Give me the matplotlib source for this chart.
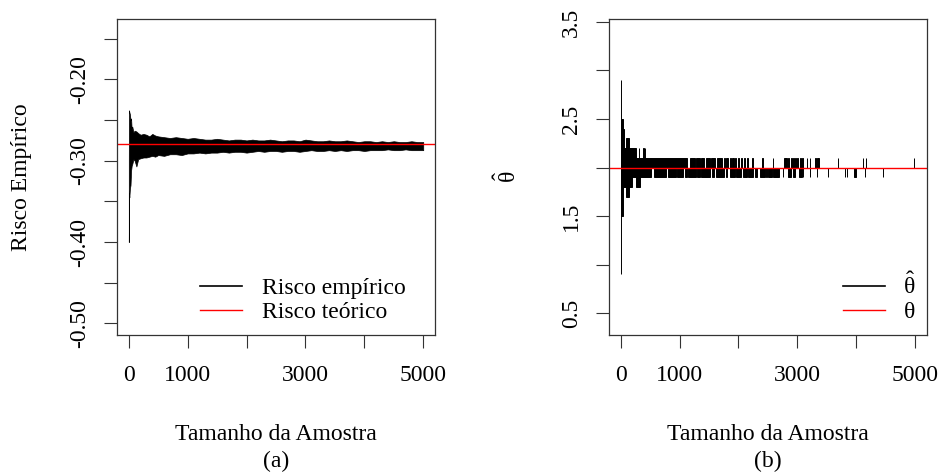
import matplotlib
matplotlib.use("Agg")
import matplotlib.pyplot as plt
from matplotlib.lines import Line2D

# ---------------- data ----------------
# (a) empirical risk: envelope of the noisy running estimate, read from the picture
risk_n = [1, 3, 5, 10, 20, 30, 40, 50, 60, 80, 100, 130, 160, 200, 250, 300, 350, 400,
          450, 500, 600, 700, 800, 900, 1000, 1100, 1200, 1300, 1400, 1500, 1600, 1700,
          1800, 1900, 2000, 2100, 2200, 2300, 2400, 2500, 2600, 2700, 2800, 2900, 3000,
          3100, 3200, 3300, 3400, 3500, 3600, 3700, 3800, 3900, 4000, 4100, 4200, 4300,
          4400, 4500, 4600, 4700, 4800, 4900, 5000]
risk_upper = [-0.300, -0.245, -0.238, -0.240, -0.243, -0.250, -0.248, -0.262, -0.258,
              -0.265, -0.263, -0.264, -0.266, -0.268, -0.267, -0.268, -0.270, -0.267,
              -0.269, -0.270, -0.271, -0.272, -0.271, -0.272, -0.273, -0.272, -0.273,
              -0.274, -0.274, -0.273, -0.274, -0.275, -0.274, -0.274, -0.275, -0.274,
              -0.275, -0.275, -0.274, -0.275, -0.276, -0.275, -0.275, -0.276, -0.274,
              -0.275, -0.276, -0.276, -0.275, -0.276, -0.276, -0.275, -0.276, -0.277,
              -0.276, -0.276, -0.277, -0.276, -0.277, -0.276, -0.277, -0.277, -0.276,
              -0.277, -0.277]
risk_lower = [-0.400, -0.370, -0.340, -0.345, -0.334, -0.330, -0.312, -0.306, -0.304,
              -0.298, -0.300, -0.307, -0.298, -0.297, -0.296, -0.296, -0.295, -0.294,
              -0.295, -0.293, -0.294, -0.292, -0.292, -0.293, -0.291, -0.291, -0.290,
              -0.291, -0.290, -0.290, -0.289, -0.290, -0.289, -0.289, -0.290, -0.289,
              -0.288, -0.289, -0.288, -0.288, -0.289, -0.288, -0.288, -0.289, -0.288,
              -0.287, -0.288, -0.288, -0.287, -0.288, -0.287, -0.288, -0.287, -0.287,
              -0.288, -0.287, -0.287, -0.287, -0.286, -0.287, -0.287, -0.286, -0.287,
              -0.287, -0.287]
risk_true = -0.28

# (b) theta-hat: early blocks (start, end, low, high)
theta_blk_start = [1, 3, 34, 57, 96, 147, 190, 250, 262, 305, 318, 335, 385, 397, 405, 415]
theta_blk_end = [3, 34, 57, 96, 147, 190, 250, 262, 305, 318, 335, 385, 397, 405, 415, 522]
theta_blk_low = [0.9, 1.5, 1.8, 1.8, 1.7, 1.8, 1.9, 1.9, 1.8, 1.8, 1.8, 1.9, 1.9, 1.9, 1.9, 1.9]
theta_blk_high = [2.9, 2.5, 2.4, 2.2, 2.3, 2.2, 2.2, 2.2, 2.1, 2.2, 2.1, 2.1, 2.2, 2.1, 2.2, 2.1]
# later: stretches where theta-hat jumps up to 2.1
theta_up_value = 2.1
theta_up_start = [522, 1173, 1287, 1372, 1446, 1531, 1639, 1752, 1797, 1854, 1899, 1939,
                  1996, 2035, 2092, 2149, 2222, 2392, 2580, 2772, 2845, 2885, 2930, 2958,
                  2990, 3044, 3080, 3157, 3214, 3299, 3340, 3696, 4110, 4160, 4983]
theta_up_end = [1128, 1258, 1343, 1412, 1514, 1599, 1729, 1775, 1820, 1877, 1922, 1956,
                2013, 2052, 2109, 2166, 2239, 2409, 2584, 2817, 2862, 2902, 2945, 2975,
                3015, 3061, 3100, 3162, 3219, 3320, 3373, 3700, 4115, 4166, 4987]
# later: stretches where theta-hat drops to 1.9
theta_dn_value = 1.9
theta_dn_start = [561, 805, 957, 1088, 1145, 1300, 1372, 1545, 1627, 1786, 1854, 1956,
                  2069, 2160, 2279, 2364, 2466, 2500, 2590, 2760, 2845, 2930, 3032, 3101,
                  3214, 3327, 3526, 3809, 3849, 3963, 4150, 4461]
theta_dn_end = [776, 935, 1060, 1128, 1287, 1340, 1514, 1590, 1752, 1809, 1939, 2035,
                2137, 2250, 2318, 2449, 2488, 2562, 2692, 2765, 2885, 2958, 3072, 3105,
                3218, 3331, 3530, 3813, 3853, 3991, 4154, 4465]
theta_true = 2.0

x_ticks = [0, 1000, 2000, 3000, 4000, 5000]
x_ticklabels = ["0", "1000", "", "3000", "", "5000"]
risk_yticks = [-0.50, -0.45, -0.40, -0.35, -0.30, -0.25, -0.20, -0.15]
risk_yticklabels = ["-0.50", "", "-0.40", "", "-0.30", "", "-0.20", ""]
theta_yticks = [0.5, 1.0, 1.5, 2.0, 2.5, 3.0, 3.5]
theta_yticklabels = ["0.5", "", "1.5", "", "2.5", "", "3.5"]

# ---------------- style ----------------
plt.rcParams["font.family"] = ["Liberation Serif", "DejaVu Serif"]
plt.rcParams["mathtext.fontset"] = "custom"
plt.rcParams["mathtext.rm"] = "Liberation Serif"
plt.rcParams["mathtext.it"] = "Liberation Serif"
plt.rcParams["mathtext.bf"] = "Liberation Serif:bold"
FS = 17
AX_COL = "#333333"

fig = plt.figure(figsize=(9.41, 4.76), dpi=100)
axL = fig.add_axes([0.1243, 0.2962, 0.3380, 0.6639])
axR = fig.add_axes([0.6472, 0.2962, 0.3376, 0.6639])


def style_axes(ax, yticks, yticklabels):
    for s in ax.spines.values():
        s.set_color(AX_COL)
        s.set_linewidth(0.9)
    ax.set_xticks(x_ticks)
    ax.set_xticklabels(x_ticklabels)
    ax.set_yticks(yticks)
    ax.set_yticklabels(yticklabels)
    ax.tick_params(axis="both", direction="out", length=9.5, width=0.8,
                   color=AX_COL, labelsize=FS, labelcolor="black")
    ax.tick_params(axis="x", pad=12)
    ax.tick_params(axis="y", pad=10)
    for lab in ax.get_yticklabels():
        lab.set_rotation(90)
        lab.set_va("center")


# ---- (a) ----
axL.fill_between(risk_n, risk_lower, risk_upper, color="black", lw=0.5)
axL.axhline(risk_true, color="red", lw=1.0)
axL.set_xlim(-200, 5200)
axL.set_ylim(-0.5144, -0.1256)
style_axes(axL, risk_yticks, risk_yticklabels)
axL.set_xlabel("Tamanho da Amostra", fontsize=FS)
axL.xaxis.set_label_coords(0.5, -0.316)
axL.xaxis.label.set_va("center")
axL.set_ylabel("Risco Empírico", fontsize=FS)
axL.yaxis.set_label_coords(-0.2987, 0.5)
axL.yaxis.label.set_va("center")
axL.text(0.5, -0.40, "(a)", transform=axL.transAxes, ha="center", va="center", fontsize=FS)
hL = [Line2D([], [], color="black", lw=1.2), Line2D([], [], color="red", lw=1.0)]
axL.legend(hL, ["Risco empírico", "Risco teórico"], loc="upper left",
           bbox_to_anchor=(0.261, 0.182), frameon=False, borderpad=0, borderaxespad=0,
           handlelength=1.78, handletextpad=0.85, labelspacing=0.1, fontsize=FS)

# ---- (b) ----
axR.bar(theta_blk_start, [h - l for h, l in zip(theta_blk_high, theta_blk_low)],
        width=[e - s for s, e in zip(theta_blk_start, theta_blk_end)],
        bottom=theta_blk_low, align="edge", color="black", edgecolor="black", lw=0.7)
axR.bar(theta_up_start, theta_up_value - theta_true,
        width=[e - s for s, e in zip(theta_up_start, theta_up_end)],
        bottom=theta_true, align="edge", color="black", edgecolor="black", lw=0.7)
axR.bar(theta_dn_start, theta_dn_value - theta_true,
        width=[e - s for s, e in zip(theta_dn_start, theta_dn_end)],
        bottom=theta_true, align="edge", color="black", edgecolor="black", lw=0.7)
axR.axhline(theta_true, color="red", lw=1.0)
axR.set_xlim(-200, 5200)
axR.set_ylim(0.277, 3.53)
style_axes(axR, theta_yticks, theta_yticklabels)
axR.set_xlabel("Tamanho da Amostra", fontsize=FS)
axR.xaxis.set_label_coords(0.5, -0.316)
axR.xaxis.label.set_va("center")
axR.set_ylabel(r"$\hat{\theta}$", fontsize=FS)
axR.yaxis.set_label_coords(-0.3195, 0.5)
axR.yaxis.label.set_va("center")
axR.text(0.5, -0.40, "(b)", transform=axR.transAxes, ha="center", va="center", fontsize=FS)
hR = [Line2D([], [], color="black", lw=1.2), Line2D([], [], color="red", lw=1.0)]
axR.legend(hR, [r"$\hat{\theta}$", r"$\theta$"], loc="upper left",
           bbox_to_anchor=(0.7366, 0.198), frameon=False, borderpad=0, borderaxespad=0,
           handlelength=1.78, handletextpad=0.76, labelspacing=0.1, fontsize=FS)

fig.savefig("out.png", dpi=100)
